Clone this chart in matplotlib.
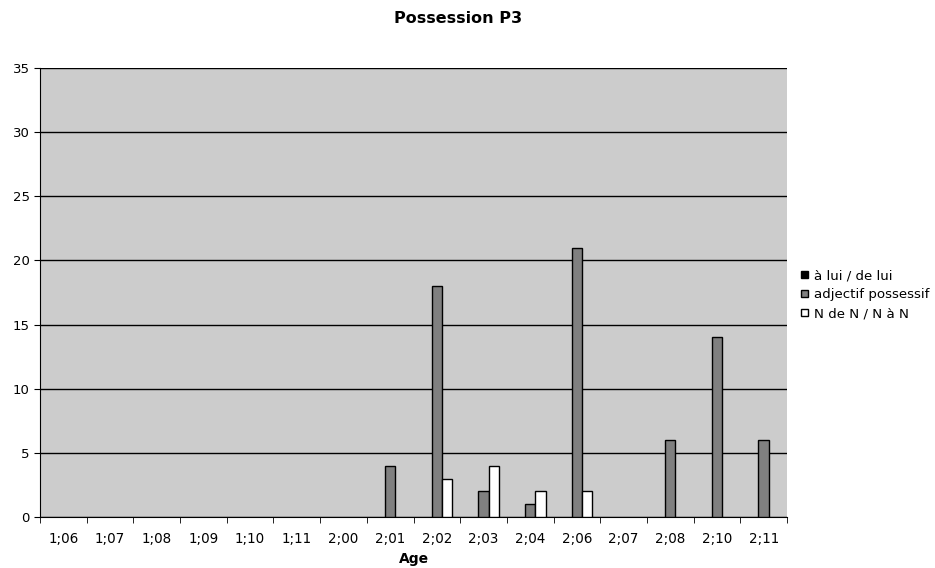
import numpy as np
import matplotlib.pyplot as plt

ages = ['1;06', '1;07', '1;08', '1;09', '1;10', '1;11', '2;00', '2;01',
        '2;02', '2;03', '2;04', '2;06', '2;07', '2;08', '2;10', '2;11']
a_lui = [0, 0, 0, 0, 0, 0, 0, 0, 0, 0, 0, 0, 0, 0, 0, 0]
adj_poss = [0, 0, 0, 0, 0, 0, 0, 4, 18, 2, 1, 21, 0, 6, 14, 6]
n_de_n = [0, 0, 0, 0, 0, 0, 0, 0, 3, 4, 2, 2, 0, 0, 0, 0]

series = [
    ('à lui / de lui', a_lui, 'black'),
    ('adjectif possessif', adj_poss, '#808080'),
    ('N de N / N à N', n_de_n, 'white'),
]

fig = plt.figure(figsize=(9.35, 5.68), dpi=100)
ax = fig.add_axes([0.0428, 0.0898, 0.7989, 0.7905])
ax.set_facecolor('#CCCCCC')

x = np.arange(len(ages))
w = 1 / 4.5
for i, (name, vals, col) in enumerate(series):
    vals = np.array(vals)
    keep = vals > 0  # empty cells get no bar at all
    ax.bar(x[keep] + (i - 1) * w, vals[keep], w, color=col, edgecolor='black',
           linewidth=1, zorder=3)
    ax.bar([np.nan], [np.nan], color=col, edgecolor='black', linewidth=1, label=name)

ax.set_xlim(-0.5, len(ages) - 0.5)
ax.set_ylim(0, 35)
ax.set_yticks(np.arange(0, 36, 5))
ax.yaxis.grid(True, color='black', linewidth=1, zorder=1)
ax.set_axisbelow(True)

ax.set_xticks(x)
ax.set_xticklabels(ages)
ax.set_xticks(np.arange(-0.5, len(ages), 1), minor=True)
ax.tick_params(axis='x', which='major', length=0, pad=11, labelsize=9.75)
ax.tick_params(axis='x', which='minor', length=4, direction='out')
ax.tick_params(axis='y', length=4, direction='out', labelsize=9.5)

for s in ['top', 'right']:
    ax.spines[s].set_visible(False)

ax.set_xlabel('Age', fontsize=10, fontweight='bold', labelpad=4)
fig.text(0.49, 0.968, 'Possession P3', ha='center', va='center',
         fontsize=11.5, fontweight='bold')

fig.legend(loc='center left', bbox_to_anchor=(0.857, 0.481), frameon=False,
           fontsize=9.6, handlelength=0.5, handleheight=0.5, handletextpad=0.45,
           labelspacing=0.45, borderpad=0, borderaxespad=0)

fig.savefig('out.png', dpi=100)
